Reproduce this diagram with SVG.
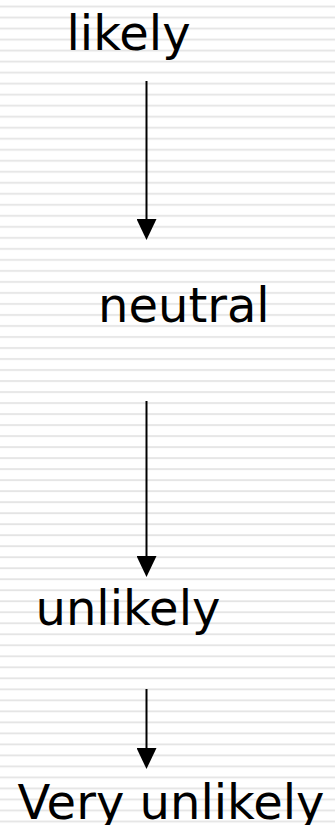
<svg xmlns="http://www.w3.org/2000/svg" width="335" height="825" viewBox="0 0 335 825">
<style>
.lbl{font-family:"DejaVu Sans","Verdana",sans-serif;font-size:48px;fill:#000}
.conn{stroke:#000;stroke-width:2;fill:none}
</style>
<defs>
<pattern id="stripes" patternUnits="userSpaceOnUse" width="335" height="11.013">
<rect x="0" y="5.7" width="335" height="1.8" fill="#e4e4e4"/>
</pattern>
<marker id="ah" viewBox="0 0 21 20" markerWidth="21" markerHeight="20" refX="16" refY="10" orient="auto" markerUnits="userSpaceOnUse">
<path d="M0,0 L21,10 L0,20 z" fill="#000"/>
</marker>
</defs>
<rect x="0" y="0" width="335" height="825" fill="#fff"/>
<rect x="0" y="0" width="335" height="825" fill="url(#stripes)"/>
<g id="connectors">
<line class="conn" x1="146.5" y1="81" x2="146.5" y2="235" marker-end="url(#ah)"/>
<line class="conn" x1="146.5" y1="401" x2="146.5" y2="572" marker-end="url(#ah)"/>
<line class="conn" x1="146.5" y1="689" x2="146.5" y2="764" marker-end="url(#ah)"/>
</g>
<g id="likely"><text class="lbl" x="66.5" y="50">likely</text></g>
<g id="neutral"><text class="lbl" x="98" y="322">neutral</text></g>
<g id="unlikely"><text class="lbl" x="35.5" y="625">unlikely</text></g>
<g id="very-unlikely"><text class="lbl" x="17.5" y="819">Very unlikely</text></g>
</svg>
